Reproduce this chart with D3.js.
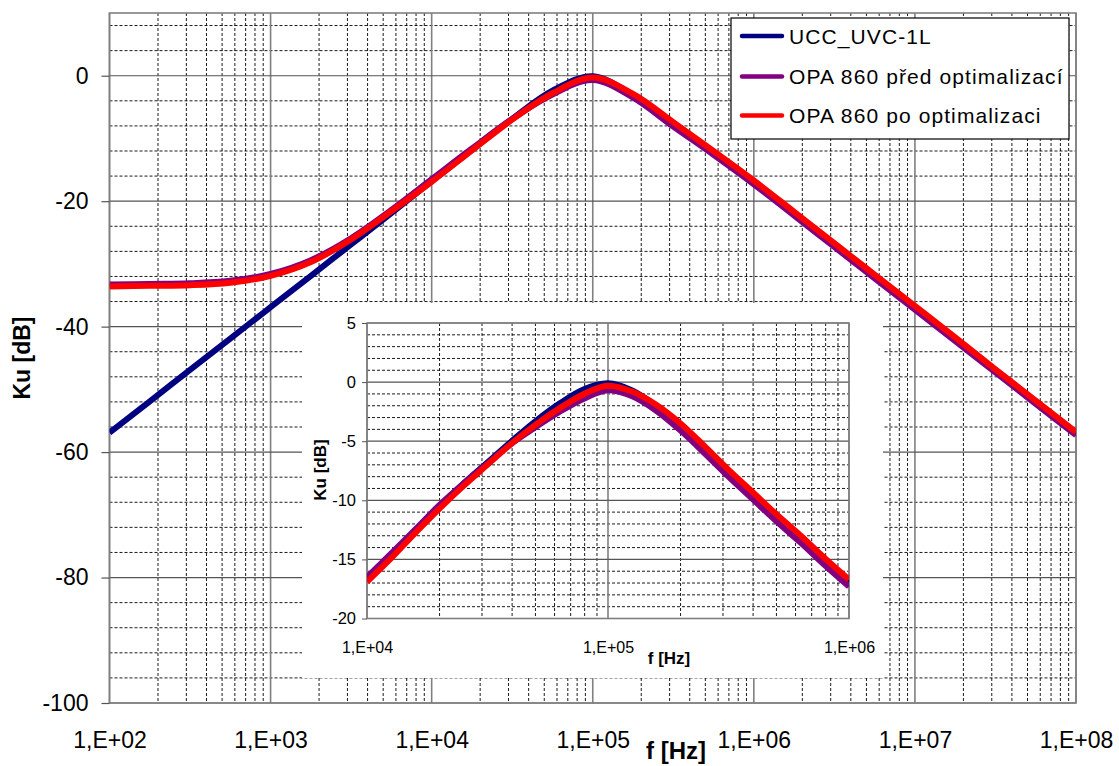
<!DOCTYPE html>
<html><head><meta charset="utf-8">
<script src="https://cdn.jsdelivr.net/npm/d3@7"></script>
<style>
html,body{margin:0;padding:0;background:#fff;}
text{font-family:"Liberation Sans",Arial,sans-serif;fill:#000;}
</style></head>
<body>
<svg id="chart" width="1119" height="766"></svg>
<script>
// ---------- data ----------
const seriesNames = ["UCC_UVC-1L", "OPA 860 před optimalizací", "OPA 860 po optimalizaci"];
const seriesColors = ["#000080", "#800080", "#ff0000"];

// main chart (Hz, dB)
const freqMain = [1e2,1.78e2,3.16e2,5.62e2,1e3,1.78e3,3.16e3,5.62e3,1e4,1.78e4,3.16e4,5.62e4,1e5,
                  1.78e5,3.16e5,5.62e5,1e6,1.78e6,3.16e6,5.62e6,1e7,1.78e7,3.16e7,5.62e7,1e8];
const uccMain   = [-56.9,-51.9,-46.9,-41.9,-36.9,-31.9,-26.9,-21.9,-16.8,-11.8,-6.9,-2.4,-0.1,
                   -3.1,-7.6,-12.2,-16.9,-21.9,-26.9,-31.9,-36.9,-41.9,-46.9,-51.9,-56.9];
const opaPredMain = [-33.3,-33.2,-33.1,-32.7,-31.6,-29.4,-25.9,-21.4,-16.5,-11.6,-6.9,-3.0,-0.7,
                   -3.5,-8.1,-12.6,-17.3,-22.3,-27.3,-32.3,-37.3,-42.3,-47.3,-52.3,-57.3];
const opaPoMain = [-33.6,-33.5,-33.4,-33.0,-31.9,-29.7,-26.1,-21.6,-16.9,-11.9,-7.0,-2.8,-0.3,
                   -2.9,-7.4,-12.0,-16.7,-21.7,-26.7,-31.7,-36.7,-41.7,-46.8,-51.8,-56.8];

// inset chart (Hz, dB)
const freqInset = [1e4,1.26e4,1.58e4,2e4,2.51e4,3.16e4,3.98e4,5.01e4,6.31e4,7.94e4,1e5,
                   1.26e5,1.58e5,2e5,2.51e5,3.16e5,3.98e5,5.01e5,6.31e5,7.94e5,1e6];
const uccInset   = [-16.7,-14.7,-12.6,-10.5,-8.6,-6.8,-5.0,-3.3,-1.8,-0.6,-0.1,
                    -0.7,-2.0,-3.8,-5.6,-7.6,-9.5,-11.4,-13.2,-15.1,-16.9];
const opaPredInset = [-16.5,-14.5,-12.5,-10.4,-8.6,-6.9,-5.2,-3.8,-2.5,-1.4,-0.7,
                    -1.2,-2.4,-4.1,-6.0,-8.0,-9.9,-11.8,-13.6,-15.5,-17.3];
const opaPoInset = [-16.9,-14.9,-12.8,-10.7,-8.8,-7.0,-5.2,-3.6,-2.2,-1.0,-0.3,
                    -0.8,-1.9,-3.5,-5.4,-7.4,-9.3,-11.2,-13.0,-14.9,-16.7];

// ticks
const xTicksMain = [1e2,1e3,1e4,1e5,1e6,1e7,1e8];
const xTickLabelsMain = ["1,E+02","1,E+03","1,E+04","1,E+05","1,E+06","1,E+07","1,E+08"];
const yTicksMain = [-100,-80,-60,-40,-20,0];
const xTicksInset = [1e4,1e5,1e6];
const xTickLabelsInset = ["1,E+04","1,E+05","1,E+06"];
const yTicksInset = [-20,-15,-10,-5,0,5];

// ---------- drawing ----------
const svg = d3.select("#chart");
const FONT = '"Liberation Sans", Arial, sans-serif';

function minorLogs(lo, hi){
  const out=[];
  for(let e=Math.log10(lo); e<Math.log10(hi)-1e-9; e++){
    for(let k=2;k<=9;k++) out.push(k*Math.pow(10,e));
  }
  return out;
}

function drawPanel(g, cfg){
  const {x, y, xMajor, yMajor, yMinorStep, id} = cfg;
  const [x0,x1] = x.range(); const [y0,y1] = y.range();
  const xm = minorLogs(x.domain()[0], x.domain()[1]);
  g.append("g").selectAll("line").data(xm).join("line")
    .attr("x1",d=>x(d)).attr("x2",d=>x(d)).attr("y1",y1).attr("y2",y0)
    .attr("stroke","#000").attr("stroke-width",0.9).attr("stroke-dasharray","3,2");
  const ym = d3.range(y.domain()[0], y.domain()[1]+1e-9, yMinorStep).filter(v=>!yMajor.includes(v) && v<y.domain()[1]);
  g.append("g").selectAll("line").data(ym).join("line")
    .attr("x1",x0).attr("x2",x1).attr("y1",d=>y(d)).attr("y2",d=>y(d))
    .attr("stroke","#000").attr("stroke-width",0.9).attr("stroke-dasharray","3,2");
  g.append("g").selectAll("line").data(xMajor).join("line")
    .attr("x1",d=>x(d)).attr("x2",d=>x(d)).attr("y1",y1).attr("y2",y0)
    .attr("stroke","#808080").attr("stroke-width",1.6);
  g.append("g").selectAll("line").data(yMajor).join("line")
    .attr("x1",x0).attr("x2",x1).attr("y1",d=>y(d)).attr("y2",d=>y(d))
    .attr("stroke","#555").attr("stroke-width",1.2);
  g.append("rect").attr("x",x0).attr("y",y1).attr("width",x1-x0).attr("height",y0-y1)
    .attr("fill","none").attr("stroke","#808080").attr("stroke-width",1.6);
  svg.append("defs").append("clipPath").attr("id",id)
    .append("rect").attr("x",x0).attr("y",y1).attr("width",x1-x0).attr("height",y0-y1);
}

function drawSeries(g, x, y, freqs, series, clipId, lw){
  const line = d3.line().x((d,i)=>x(freqs[i])).y(d=>y(d)).curve(d3.curveCatmullRom.alpha(0.5));
  const cg = g.append("g").attr("clip-path",`url(#${clipId})`);
  series.forEach((vals,k)=>{
    cg.append("path").attr("d",line(vals)).attr("fill","none")
      .attr("stroke",seriesColors[k]).attr("stroke-width",lw)
      .attr("stroke-linejoin","round").attr("stroke-linecap","butt");
  });
}

// ---- main chart ----
const xMain = d3.scaleLog().domain([1e2,1e8]).range([109.5,1076]);
const yMain = d3.scaleLinear().domain([-100,10]).range([703,13]);
const gMain = svg.append("g");
drawPanel(gMain, {x:xMain, y:yMain, xMajor:xTicksMain, yMajor:yTicksMain, yMinorStep:4, id:"clipMain"});

const yAxisMain = d3.axisLeft(yMain).tickValues(yTicksMain).tickSize(8).tickPadding(13).tickFormat(d=>String(d));
const gya = gMain.append("g").attr("transform","translate(109.5,0)").call(yAxisMain);
gya.select(".domain").remove();
gya.selectAll(".tick line").attr("stroke","#555").attr("stroke-width",1.2);
gya.selectAll("text").attr("font-family",FONT).attr("font-size","23px").attr("fill","#000");

const xAxisMain = d3.axisBottom(xMain).tickValues(xTicksMain).tickSize(0)
  .tickFormat((d,i)=>xTickLabelsMain[i]);
const gxa = gMain.append("g").attr("transform","translate(0,703)").call(xAxisMain);
gxa.select(".domain").remove();
gxa.selectAll("text").attr("font-family",FONT).attr("font-size","23px").attr("fill","#000").attr("dy","0.35em").attr("y",37);

svg.append("text").attr("transform","translate(30,358) rotate(-90)").attr("text-anchor","middle")
  .attr("font-size","23px").attr("font-weight","bold").text("Ku [dB]");
svg.append("text").attr("x",676).attr("y",759).attr("text-anchor","middle")
  .attr("font-size","24px").attr("font-weight","bold").text("f [Hz]");

drawSeries(gMain, xMain, yMain, freqMain, [uccMain, opaPredMain, opaPoMain], "clipMain", 6);

// ---- inset ----
svg.append("rect").attr("x",302).attr("y",303).attr("width",581).attr("height",375).attr("fill","#fff");
const xIn = d3.scaleLog().domain([1e4,1e6]).range([367,849]);
const yIn = d3.scaleLinear().domain([-20,5]).range([618.5,323]);
const gIn = svg.append("g");
drawPanel(gIn, {x:xIn, y:yIn, xMajor:xTicksInset, yMajor:yTicksInset, yMinorStep:1, id:"clipIn"});

const yAxisIn = d3.axisLeft(yIn).tickValues(yTicksInset).tickSize(5).tickPadding(6).tickFormat(d=>String(d));
const gyi = gIn.append("g").attr("transform","translate(367,0)").call(yAxisIn);
gyi.select(".domain").remove();
gyi.selectAll(".tick line").attr("stroke","#555");
gyi.selectAll("text").attr("font-family",FONT).attr("font-size","16.5px").attr("fill","#000");

const xAxisIn = d3.axisBottom(xIn).tickValues(xTicksInset).tickSize(0).tickFormat((d,i)=>xTickLabelsInset[i]);
const gxi = gIn.append("g").attr("transform","translate(0,618.5)").call(xAxisIn);
gxi.select(".domain").remove();
gxi.selectAll("text").attr("font-family",FONT).attr("font-size","16px").attr("fill","#000").attr("dy","0").attr("y",34);

svg.append("text").attr("transform","translate(326,470) rotate(-90)").attr("text-anchor","middle")
  .attr("font-size","17px").attr("font-weight","bold").text("Ku [dB]");
svg.append("text").attr("x",669).attr("y",664).attr("text-anchor","middle")
  .attr("font-size","17px").attr("font-weight","bold").text("f [Hz]");

drawSeries(gIn, xIn, yIn, freqInset, [uccInset, opaPredInset, opaPoInset], "clipIn", 6);

// ---- legend ----
const lg = svg.append("g");
lg.append("rect").attr("x",731).attr("y",18).attr("width",338).attr("height",121)
  .attr("fill","#fff").attr("stroke","#000").attr("stroke-width",1.2);
const rows = [36, 76.5, 115.5];
seriesNames.forEach((n,i)=>{
  lg.append("line").attr("x1",742).attr("x2",782).attr("y1",rows[i]).attr("y2",rows[i])
    .attr("stroke",seriesColors[i]).attr("stroke-width",4.5).attr("stroke-linecap","round");
  lg.append("text").attr("x",789).attr("y",rows[i]+7.5).attr("font-size","21px")
    .attr("letter-spacing","1.1px").text(n);
});
</script>
</body></html>
